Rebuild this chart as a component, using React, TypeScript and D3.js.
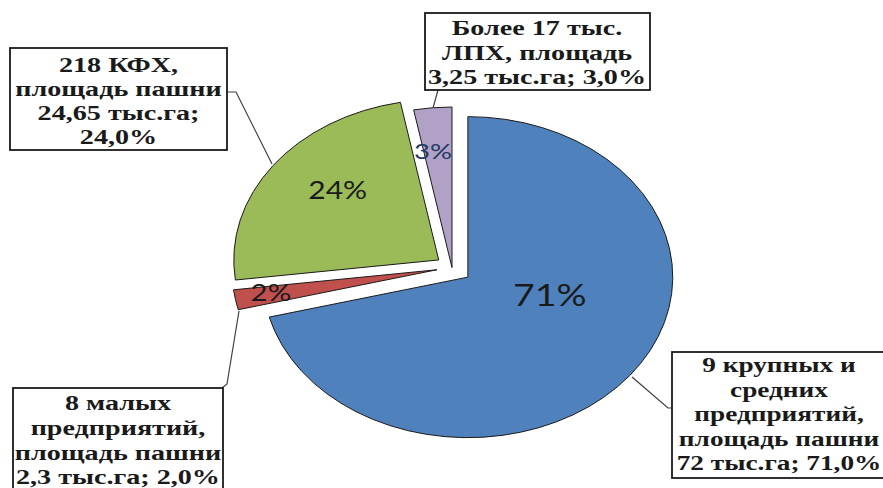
import React from "react";
import * as d3 from "d3";

// ---- data ----
const categories = [
  "9 крупных и средних предприятий",
  "8 малых предприятий",
  "218 КФХ",
  "Более 17 тыс. ЛПХ",
];
const shares = [71, 2, 24, 3];
const pctLabels = ["71%", "2%", "24%", "3%"];
const calloutLines: string[][] = [
  ["9 крупных и", "средних", "предприятий,", "площадь пашни", "72 тыс.га; 71,0%"],
  ["8 малых", "предприятий,", "площадь пашни", "2,3 тыс.га; 2,0%"],
  ["218 КФХ,", "площадь пашни", "24,65 тыс.га;", "24,0%"],
  ["Более 17 тыс.", "ЛПХ, площадь", "3,25 тыс.га; 3,0%"],
];
const colors = ["#4F81BD", "#C0504D", "#9BBB59", "#B2A1C7"];

// ---- layout ----
const W = 883;
const H = 488;
const C0 = { x: 452, y: 267.5 };
const RX = 205;
const RY = 160.5;
const explode = [0.098, 0.075, 0.08, 0];
// percent label offsets from slice apex (px)
const pctOffset = [
  { dx: 82, dy: 17, fs: 30, sx: 1.25 },
  { dx: -166, dy: 23, fs: 23, sx: 1.28 },
  { dx: -101, dy: -70, fs: 25, sx: 1.2 },
  { dx: -19, dy: -117, fs: 22, sx: 1.25 },
];
const boxes = [
  { x: 672, y: 352, w: 215, h: 126, cx: 779, ty: 365, lh: 24.5, sx: 1.3 },
  { x: 13, y: 388, w: 210, h: 110, cx: 118, ty: 403, lh: 24.7, sx: 1.34 },
  { x: 10, y: 48, w: 217, h: 102, cx: 118.5, ty: 65, lh: 24, sx: 1.34 },
  { x: 425, y: 13, w: 225, h: 77, cx: 537, ty: 28, lh: 24.5, sx: 1.34 },
];
const leaders = [
  [[632, 377], [668, 408], [672, 408]],
  [[239, 311], [227, 384], [222, 388]],
  [[272, 164], [236, 92], [227, 92]],
  [[433, 108], [438, 90]],
];

const BOX_FONT = 21;

export default function App() {
  const pie = d3
    .pie<number>()
    .sort(null)
    .value((d) => d)
    .startAngle(0)
    .endAngle(2 * Math.PI);
  const arcs = pie(shares);
  const arcGen = d3.arc<d3.PieArcDatum<number>>().innerRadius(0).outerRadius(1);

  return (
    <svg
      width={W}
      height={H}
      style={{ position: "absolute", left: 0, top: 0, background: "#fff" }}
    >
      <rect x={0} y={0} width={W} height={H} fill="#fff" />
      {arcs.map((a, i) => {
        const mid = (a.startAngle + a.endAngle) / 2;
        const ax = C0.x + explode[i] * RX * Math.sin(mid);
        const ay = C0.y - explode[i] * RY * Math.cos(mid);
        return (
          <g key={categories[i]}>
            <path
              d={arcGen(a) || ""}
              transform={`translate(${ax},${ay}) scale(${RX},${RY})`}
              fill={colors[i]}
              stroke="#1a1a1a"
              strokeWidth={1}
              vectorEffect="non-scaling-stroke"
            />
          </g>
        );
      })}
      {arcs.map((a, i) => {
        const mid = (a.startAngle + a.endAngle) / 2;
        const ax = C0.x + explode[i] * RX * Math.sin(mid);
        const ay = C0.y - explode[i] * RY * Math.cos(mid);
        const p = pctOffset[i];
        return (
          <g
            key={"pct" + i}
            transform={`translate(${ax + p.dx},${ay + p.dy}) scale(${p.sx},1)`}
          >
            <text
              textAnchor="middle"
              dominantBaseline="central"
              fontFamily="Lato, 'Open Sans', sans-serif"
              fontSize={p.fs}
              fill={i === 3 ? "#1F3864" : "#1a1a1a"}
            >
              {pctLabels[i]}
            </text>
          </g>
        );
      })}
      {leaders.map((pts, i) => (
        <polyline
          key={"ld" + i}
          points={pts.map((p) => p.join(",")).join(" ")}
          fill="none"
          stroke="#404040"
          strokeWidth={1.2}
        />
      ))}
      {boxes.map((b, i) => (
        <g key={"box" + i}>
          <rect
            x={b.x}
            y={b.y}
            width={b.w}
            height={b.h}
            fill="#fff"
            stroke="#1a1a1a"
            strokeWidth={1.8}
          />
          {calloutLines[i].map((line, j) => (
            <g
              key={j}
              transform={`translate(${b.cx},${b.ty + j * b.lh}) scale(${b.sx},1)`}
            >
              <text
                textAnchor="middle"
                dominantBaseline="central"
                fontFamily="'Liberation Serif', 'Times New Roman', serif"
                fontWeight="bold"
                fontSize={BOX_FONT}
                fill="#1a1a1a"
              >
                {line}
              </text>
            </g>
          ))}
        </g>
      ))}
    </svg>
  );
}
